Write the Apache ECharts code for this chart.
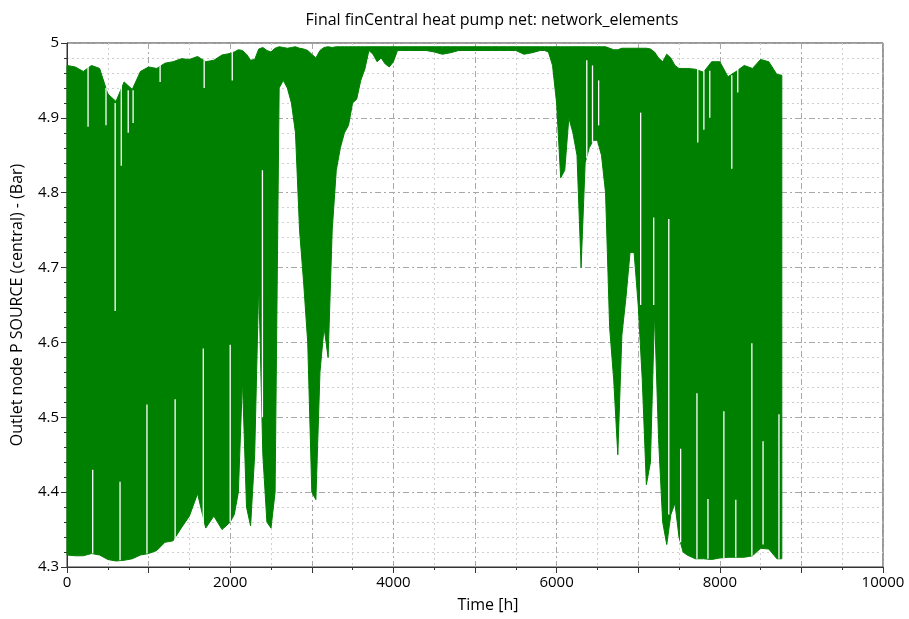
<!DOCTYPE html>
<html>
<head>
<meta charset="utf-8">
<title>network_elements</title>
<script src="https://cdn.jsdelivr.net/npm/echarts@6/dist/echarts.min.js"></script>
<style>
  html, body { margin: 0; padding: 0; background: #fff; }
  #chart { width: 909px; height: 619px; }
</style>
</head>
<body>
<div id="chart"></div>
<script>
// hourly pressure is far too dense to read point by point, so it is kept as
// the band it fills: lower and upper envelope
const hours = [
  0, 100, 200, 300, 400, 500, 600, 700, 800, 900, 1000, 1100, 1200, 1300, 1400, 1500, 1600, 1700, 1800, 1900,
  2000, 2050, 2100, 2150, 2200, 2250, 2300, 2350, 2400, 2450, 2500, 2550, 2600, 2650, 2700, 2750, 2800, 2850,
  2900, 2950, 3000, 3050, 3100, 3150, 3200, 3250, 3300, 3350, 3400, 3450, 3500, 3550, 3600, 3650, 3700, 3750,
  3800, 3850, 3900, 3950, 4000, 4050,
  4100, 4200, 4300, 4400, 4500, 4600, 4700, 4800, 4900, 5000, 5100, 5200, 5300, 5400, 5500, 5600, 5700,
  5800, 5850, 5900, 5950, 6000, 6050, 6100, 6150, 6200, 6250, 6300, 6350, 6400, 6450, 6500, 6550, 6600, 6650,
  6700, 6750, 6800, 6850, 6900, 6950, 7000, 7050, 7100, 7150, 7200, 7250, 7300, 7350, 7400, 7450, 7500, 7550, 7600,
  7700, 7800, 7900, 8000, 8100, 8200, 8300, 8400, 8500, 8600, 8700, 8760
];
const highP = [
  4.970, 4.968, 4.962, 4.970, 4.966, 4.932, 4.922, 4.948, 4.938, 4.962, 4.968, 4.966, 4.973, 4.975, 4.979, 4.978, 4.982, 4.975, 4.977, 4.984,
  4.986, 4.988, 4.991, 4.990, 4.985, 4.977, 4.978, 4.992, 4.994, 4.990, 4.988, 4.993, 4.995, 4.994, 4.993, 4.994, 4.995, 4.993,
  4.992, 4.990, 4.985, 4.980, 4.990, 4.994, 4.995, 4.994, 4.995, 4.995, 4.995, 4.995, 4.995, 4.995, 4.995, 4.995, 4.995, 4.995,
  4.995, 4.995, 4.995, 4.995, 4.995, 4.995,
  4.995, 4.995, 4.995, 4.995, 4.995, 4.995, 4.995, 4.995, 4.995, 4.995, 4.995, 4.995, 4.995, 4.995, 4.995, 4.995, 4.995,
  4.995, 4.995, 4.995, 4.995, 4.995, 4.995, 4.995, 4.995, 4.995, 4.995, 4.995, 4.995, 4.995, 4.995, 4.995, 4.995, 4.995, 4.993,
  4.991, 4.991, 4.993, 4.993, 4.993, 4.993, 4.993, 4.993, 4.993, 4.992, 4.988, 4.980, 4.975, 4.985, 4.980, 4.970, 4.966, 4.966, 4.966,
  4.965, 4.961, 4.975, 4.975, 4.955, 4.962, 4.970, 4.966, 4.978, 4.975, 4.958, 4.957
];
const lowP = [
  4.316, 4.315, 4.315, 4.318, 4.316, 4.310, 4.308, 4.309, 4.311, 4.316, 4.318, 4.322, 4.333, 4.335, 4.352, 4.368, 4.398, 4.352, 4.368, 4.350,
  4.360, 4.370, 4.400, 4.550, 4.380, 4.355, 4.450, 4.680, 4.450, 4.360, 4.352, 4.400, 4.940, 4.950, 4.940, 4.920, 4.880, 4.750,
  4.680, 4.600, 4.400, 4.390, 4.560, 4.620, 4.580, 4.750, 4.830, 4.860, 4.880, 4.890, 4.920, 4.925, 4.950, 4.965, 4.990, 4.985,
  4.975, 4.980, 4.972, 4.968, 4.975, 4.990,
  4.990, 4.990, 4.990, 4.990, 4.988, 4.985, 4.987, 4.990, 4.990, 4.990, 4.990, 4.990, 4.990, 4.990, 4.990, 4.985, 4.987,
  4.990, 4.990, 4.988, 4.970, 4.920, 4.820, 4.830, 4.900, 4.880, 4.850, 4.700, 4.840, 4.860, 4.870, 4.870, 4.850, 4.800, 4.620,
  4.550, 4.450, 4.610, 4.660, 4.720, 4.720, 4.650, 4.550, 4.410, 4.440, 4.640, 4.470, 4.360, 4.330, 4.370, 4.385, 4.340, 4.320, 4.316,
  4.311, 4.311, 4.310, 4.312, 4.313, 4.313, 4.313, 4.315, 4.325, 4.324, 4.311, 4.311
];

// single hours where the curve stays clear of the band edge (white streaks)
const streakHours  = [258, 478, 590, 665, 750, 810, 1141, 1681, 2025, 315, 650, 980, 1325, 1670, 2000, 2395,
  6370, 6440, 6515, 7030, 7190, 7375, 7520, 7720, 7855, 8050, 8196, 8393, 8530, 8725, 7730, 7805, 7877, 8147, 8220];
const streakTop    = [4.968, 4.940, 4.920, 4.948, 4.937, 4.937, 4.975, 4.977, 4.990, 4.430, 4.414, 4.517, 4.524, 4.592, 4.597, 4.830,
  4.977, 4.970, 4.950, 4.907, 4.767, 4.765, 4.458, 4.532, 4.391, 4.508, 4.390, 4.599, 4.468, 4.504, 4.966, 4.963, 4.963, 4.957, 4.970];
const streakBottom = [4.888, 4.890, 4.642, 4.836, 4.880, 4.893, 4.948, 4.940, 4.950, 4.318, 4.309, 4.318, 4.331, 4.350, 4.360, 4.500,
  4.846, 4.867, 4.890, 4.650, 4.650, 4.370, 4.333, 4.311, 4.311, 4.312, 4.313, 4.315, 4.330, 4.311, 4.867, 4.884, 4.900, 4.832, 4.934];

const green = '#008000';
const font = 'Open Sans';

const chart = echarts.init(document.getElementById('chart'), null, { renderer: 'canvas' });

// the whole band as one polygon: along the upper envelope, back along the lower one
function renderBand(params, api) {
  const pts = [];
  hours.forEach((t, i) => pts.push(api.coord([t, highP[i]])));
  for (let i = hours.length - 1; i >= 0; i--) pts.push(api.coord([hours[i], lowP[i]]));
  return {
    type: 'polygon',
    shape: { points: pts },
    style: { fill: green, stroke: green, lineWidth: 1, lineJoin: 'miter' }
  };
}

const option = {
  animation: false,
  backgroundColor: '#fff',
  title: {
    text: 'Final finCentral heat pump net: network_elements',
    left: 487,
    top: 7,
    textAlign: 'center',
    textStyle: { fontFamily: font, fontSize: 16, fontWeight: 'normal', color: '#000' }
  },
  grid: {
    left: 67,
    right: 26,
    top: 43,
    bottom: 52,
    show: true,
    borderColor: '#333',
    borderWidth: 1
  },
  xAxis: {
    type: 'value',
    min: 0,
    max: 10000,
    interval: 1000,
    name: 'Time [h]',
    nameLocation: 'middle',
    nameGap: 30,
    nameTextStyle: { fontFamily: font, fontSize: 16, color: '#000', padding: [0, 0, 0, 26] },
    axisLine: { lineStyle: { color: '#333', width: 1 } },
    axisTick: { length: 6, lineStyle: { color: '#333' } },
    minorTick: { show: true, splitNumber: 2, length: 3, lineStyle: { color: '#333' } },
    axisLabel: {
      fontFamily: font, fontSize: 15, color: '#000', margin: 8,
      formatter: v => (v % 2000 === 0 ? String(v) : '')
    },
    splitLine: { show: true, lineStyle: { color: '#a8a8a8', type: [6, 3, 2, 3] } },
    minorSplitLine: { show: true, lineStyle: { color: '#cfcfcf', type: [2, 3] } }
  },
  yAxis: {
    type: 'value',
    min: 4.3,
    max: 5,
    interval: 0.1,
    name: 'Outlet node P SOURCE (central) - (Bar)',
    nameLocation: 'middle',
    nameGap: 42,
    nameTextStyle: { fontFamily: font, fontSize: 16, color: '#000' },
    axisLine: { show: true, lineStyle: { color: '#333', width: 1 } },
    axisTick: { show: true, length: 6, lineStyle: { color: '#333' } },
    minorTick: { show: true, splitNumber: 5, length: 3, lineStyle: { color: '#333' } },
    axisLabel: {
      fontFamily: font, fontSize: 15, color: '#000', margin: 8,
      formatter: v => String(Math.round(v * 10) / 10)
    },
    splitLine: { show: true, lineStyle: { color: '#a8a8a8', type: [6, 3, 2, 3] } },
    minorSplitLine: { show: true, lineStyle: { color: '#cfcfcf', type: [2, 3] } }
  },
  series: [
    {
      name: 'P',
      type: 'custom',
      silent: true,
      z: 3,
      data: [[hours[0], lowP[0]]],
      renderItem: renderBand
    },
    {
      name: 'streaks',
      type: 'custom',
      silent: true,
      z: 5,
      data: streakHours.map((t, i) => [t, streakTop[i], streakBottom[i]]),
      renderItem: (params, api) => {
        const a = api.coord([api.value(0), api.value(1)]);
        const b = api.coord([api.value(0), api.value(2)]);
        return {
          type: 'line',
          shape: { x1: a[0], y1: a[1], x2: b[0], y2: b[1] },
          style: { stroke: '#fff', lineWidth: 1.3 }
        };
      }
    }
  ]
};

chart.setOption(option);
</script>
</body>
</html>
